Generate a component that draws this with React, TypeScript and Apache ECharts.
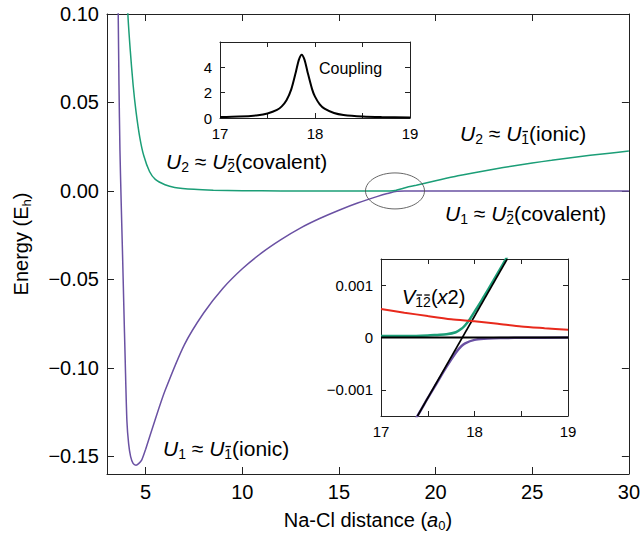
import React, { useEffect, useRef } from 'react';
import * as echarts from 'echarts';

const FONT = '"Liberation Sans", Arial, Helvetica, sans-serif';
const GREEN = '#1b9e77';
const PURPLE = '#6a51a3';
const RED = '#e8291c';
const INK = '#000';
const FRAME = '#222';

// ---- Main panel: adiabatic curves (Na-Cl distance in a0, energy in Eh) ----
const u1X = [3.55, 3.58, 3.62, 3.67, 3.73, 3.80, 3.87, 3.94, 4.03, 4.12, 4.22, 4.35, 4.5, 4.65, 4.8, 5.0, 5.47, 6, 7, 8, 9, 10, 11, 12, 13, 14, 15, 16, 17, 17.5, 18, 18.5, 19, 20, 25, 30];
const u1Y = [0.12, 0.10, 0.06, 0.023, -0.005, -0.034, -0.065, -0.095, -0.13, -0.143, -0.150, -0.154, -0.155, -0.154, -0.152, -0.146, -0.13, -0.113, -0.087, -0.069, -0.055, -0.044, -0.035, -0.0275, -0.021, -0.0156, -0.0109, -0.0067, -0.0031, -0.0015, -0.0002, -0.00005, 0, 0, 0, 0];

const u2X = [4.04, 4.08, 4.2, 4.35, 4.5, 4.7, 4.9, 5.2, 5.5, 6.0, 6.5, 7.5, 8.5, 10, 12, 15, 17, 17.5, 17.8, 17.9, 18, 18.3, 18.6, 19, 20, 21, 22, 23, 24, 25, 26, 27, 28, 29, 30];
const u2Y = [0.12, 0.10, 0.08, 0.06, 0.045, 0.03, 0.02, 0.011, 0.0065, 0.0035, 0.002, 0.0009, 0.0004, 0.0001, 0, 0, 0, 0, 0.0001, 0.0002, 0.0005, 0.0014, 0.0023, 0.0032, 0.0058, 0.0082, 0.0103, 0.0123, 0.0141, 0.0158, 0.0173, 0.0188, 0.0201, 0.0213, 0.0225];

const mainXTicks = [5, 10, 15, 20, 25, 30];
const mainYTicks = [-0.15, -0.1, -0.05, 0, 0.05, 0.1];
const crossing = [17.9, 0];

// ---- Inset 1: coupling ----
const couplingX = [17, 17.2, 17.4, 17.5, 17.6, 17.65, 17.7, 17.75, 17.8, 17.83, 17.86, 17.89, 17.92, 17.97, 18.0, 18.05, 18.1, 18.2, 18.3, 18.5, 18.7, 19];
const couplingY = [0.07, 0.11, 0.22, 0.36, 0.64, 0.92, 1.40, 2.26, 3.68, 4.59, 5.0, 4.59, 3.68, 2.26, 1.69, 1.08, 0.74, 0.40, 0.245, 0.12, 0.07, 0.04];
const in1XTicks = [17, 17.5, 18, 18.5, 19];
const in1XLabels = [17, 18, 19];
const in1YTicks = [0, 2, 4];

// ---- Inset 2: diabatic vs adiabatic near crossing ----
const upperX = [17, 17.3, 17.5, 17.6, 17.7, 17.8, 17.86, 17.9, 17.95, 18.0, 18.05, 18.1, 18.2, 18.3, 18.4];
const upperY = [0.00003, 0.00003, 0.00004, 0.00005, 0.00006, 0.0001, 0.000165, 0.000235, 0.00035, 0.00049, 0.00063, 0.00078, 0.00108, 0.00139, 0.0017];
const lowerX = [17.3, 17.4, 17.5, 17.6, 17.7, 17.8, 17.86, 17.9, 18.0, 18.1, 18.2, 18.35, 18.5, 19];
const lowerY = [-0.00176, -0.00147, -0.00116, -0.00086, -0.00056, -0.00029, -0.000165, -0.00011, -0.000046, -0.000024, -0.000015, -0.000008, -0.000005, 0];
const covX = [17, 19];
const covY = [0, 0];
const ionX = [17.39, 18.35];
const ionY = [-0.0015, 0.0015];
const v12X = [17, 17.25, 17.5, 17.75, 18, 18.25, 18.5, 18.75, 19];
const v12Y = [0.000545, 0.000475, 0.00041, 0.00035, 0.00031, 0.000262, 0.00021, 0.000177, 0.000146];
const in2YTicks = [-0.001, 0, 0.001];

const zip = (xs: number[], ys: number[]) => xs.map((x, i) => [x, ys[i]]);

const minus = (s: string, v: number) => (v < -1e-12 ? '\u2212' + s : s);

function xAx(grid: number, pos: 'top' | 'bottom', min: number, max: number, ticks: number[], labels: number[] | null, tickLen: number, fs: number, extra: any = {}) {
  return {
    type: 'value', gridIndex: grid, position: pos, min, max,
    axisLine: { show: true, onZero: false, lineStyle: { color: FRAME, width: 1 } },
    axisTick: { show: true, inside: true, length: tickLen, customValues: ticks, lineStyle: { color: FRAME, width: 1 } },
    axisLabel: labels
      ? { show: true, customValues: labels, fontSize: fs, color: INK, fontFamily: FONT, margin: 8 }
      : { show: false },
    splitLine: { show: false },
    ...extra,
  };
}

function yAx(grid: number, pos: 'left' | 'right', min: number, max: number, ticks: number[], labels: number[] | null, tickLen: number, fs: number, fmt: any, extra: any = {}) {
  return {
    type: 'value', gridIndex: grid, position: pos, min, max,
    axisLine: { show: true, onZero: false, lineStyle: { color: FRAME, width: 1 } },
    axisTick: { show: true, inside: true, length: tickLen, customValues: ticks, lineStyle: { color: FRAME, width: 1 } },
    axisLabel: labels
      ? { show: true, customValues: labels, fontSize: fs, color: INK, fontFamily: FONT, margin: 8, formatter: fmt }
      : { show: false },
    splitLine: { show: false },
    ...extra,
  };
}

const nameRich = {
  n: { fontSize: 20, fontFamily: FONT, color: INK, lineHeight: 24 },
  i: { fontSize: 20, fontFamily: FONT, color: INK, fontStyle: 'italic', lineHeight: 24 },
  s: { fontSize: 13, fontFamily: FONT, color: INK, lineHeight: 13, verticalAlign: 'bottom' },
};

function richFor(fs: number, sfs: number) {
  return {
    n: { fontSize: fs, fontFamily: FONT, fill: INK, lineHeight: fs + 4 },
    i: { fontSize: fs, fontFamily: FONT, fill: INK, fontStyle: 'italic', lineHeight: fs + 4 },
    s: { fontSize: sfs, fontFamily: FONT, fill: INK, lineHeight: sfs, verticalAlign: 'bottom' },
  };
}

let measureCtx: CanvasRenderingContext2D | null = null;
function tw(text: string, size: number, italic = false) {
  if (!measureCtx) measureCtx = document.createElement('canvas').getContext('2d');
  measureCtx!.font = `${italic ? 'italic ' : ''}${size}px ${FONT}`;
  return measureCtx!.measureText(text).width;
}

type Tok = { t: string; k: 'n' | 'i' | 's'; bar?: boolean };

function label(toks: Tok[], x: number, y: number, fs = 21, sfs = 14): any[] {
  const text = toks.map((k) => `{${k.k}|${k.t}}`).join('');
  const out: any[] = [{
    type: 'text', z: 100,
    style: {
      text, x, y, rich: richFor(fs, sfs),
      fontSize: fs, fontFamily: FONT, fill: INK,
      verticalAlign: 'middle', align: 'left',
    },
  }];
  const barY = y + (fs + 4) / 2 - sfs / 2 + 0.35 * sfs - 0.72 * sfs - 1.8;
  let cx = x;
  toks.forEach((k) => {
    const size = k.k === 's' ? sfs : fs;
    if (k.bar) {
      // one bar per character of the subscript
      let bx = cx;
      for (const ch of k.t) {
        const w = tw(ch, size);
        out.push({
          type: 'line', z: 100,
          shape: { x1: bx + w * 0.15, y1: barY, x2: bx + w * 0.85, y2: barY },
          style: { stroke: INK, lineWidth: 1.3 },
        });
        bx += w;
      }
    }
    cx += tw(k.t, size, k.k === 'i');
  });
  return out;
}

export default function App() {
  const ref = useRef<HTMLDivElement>(null);
  useEffect(() => {
    const chart = echarts.init(ref.current!, null, { renderer: 'svg' });
    const line = (data: number[][], xi: number, color: string, width: number, z = 2) => ({
      type: 'line', data, xAxisIndex: xi, yAxisIndex: xi, showSymbol: false, symbol: 'none',
      smooth: 0.25, clip: true, z,
      lineStyle: { color, width }, silent: true,
    });
    const mainFmt = (v: number) => minus(Math.abs(v).toFixed(2), v);
    const in1Fmt = (v: number) => String(Math.round(v));
    const in2Fmt = (v: number) => (Math.abs(v) < 1e-12 ? '0' : minus(Math.abs(v).toFixed(3), v));
    const option: any = {
      animation: false,
      backgroundColor: '#fff',
      textStyle: { fontFamily: FONT },
      grid: [
        { left: 107, top: 14, width: 525, height: 460, show: false },
        { left: 220, top: 42, width: 190, height: 76, show: false },
        { left: 381, top: 259, width: 187, height: 157, show: false },
      ],
      xAxis: [
        xAx(0, 'bottom', 3, 30, mainXTicks, mainXTicks, 7, 20, {
          name: '{n|Na-Cl distance (}{i|a}{s|0}{n|)}', nameLocation: 'middle', nameGap: 34,
          nameTextStyle: { rich: nameRich },
        }),
        xAx(0, 'top', 3, 30, mainXTicks, null, 7, 20),
        xAx(1, 'bottom', 17, 19, in1XTicks, in1XLabels, 5, 15),
        xAx(1, 'top', 17, 19, in1XTicks, null, 5, 15),
        xAx(2, 'bottom', 17, 19, in1XTicks, in1XLabels, 5, 15),
        xAx(2, 'top', 17, 19, in1XTicks, null, 5, 15),
      ],
      yAxis: [
        yAx(0, 'left', -0.16, 0.1, mainYTicks, mainYTicks, 7, 20, mainFmt, {
          name: '{n|Energy (E}{s|h}{n|)}', nameLocation: 'middle', nameGap: 74,
          nameTextStyle: { rich: nameRich },
        }),
        yAx(0, 'right', -0.16, 0.1, mainYTicks, null, 7, 20, mainFmt),
        yAx(1, 'left', 0, 6, in1YTicks, in1YTicks, 5, 15, in1Fmt),
        yAx(1, 'right', 0, 6, in1YTicks, null, 5, 15, in1Fmt),
        yAx(2, 'left', -0.0015, 0.0015, in2YTicks, in2YTicks, 5, 15, in2Fmt),
        yAx(2, 'right', -0.0015, 0.0015, in2YTicks, null, 5, 15, in2Fmt),
      ],
      series: [
        line(zip(u1X, u1Y), 0, PURPLE, 1.5),
        line(zip(u2X, u2Y), 0, GREEN, 1.5),
        line(zip(couplingX, couplingY), 2, INK, 2, 10),
        line(zip(upperX, upperY), 4, GREEN, 2.5, 10),
        line(zip(lowerX, lowerY), 4, PURPLE, 2.5, 10),
        line(zip(covX, covY), 4, INK, 2, 11),
        line(zip(ionX, ionY), 4, INK, 1.6, 11),
        line(zip(v12X, v12Y), 4, RED, 2, 12),
      ],
    };
    chart.setOption(option);
    const c = chart.convertToPixel({ xAxisIndex: 0, yAxisIndex: 0 }, crossing) as number[];
    const U = (n: string, m: string, rest: string): Tok[] => [
      { t: 'U', k: 'i' }, { t: n, k: 's' }, { t: ' \u2248 ', k: 'n' },
      { t: 'U', k: 'i' }, { t: m, k: 's', bar: true }, { t: rest, k: 'n' },
    ];
    chart.setOption({
      graphic: [
        { type: 'ellipse', z: 50, shape: { cx: c[0], cy: c[1], rx: 29.5, ry: 18 }, style: { fill: 'none', stroke: '#555', lineWidth: 0.9 } },
        ...label(U('2', '2', '(covalent)'), 166, 161),
        ...label(U('2', '1', '(ionic)'), 460, 133),
        ...label(U('1', '2', '(covalent)'), 445, 213),
        ...label(U('1', '1', '(ionic)'), 163, 448),
        ...label([{ t: 'Coupling', k: 'n' }], 319, 68, 16, 11),
        ...label([{ t: 'V', k: 'i' }, { t: '12', k: 's', bar: true }, { t: '(', k: 'n' }, { t: 'x', k: 'i' }, { t: '2)', k: 'n' }], 402, 297, 20, 14),
      ],
    });
    return () => chart.dispose();
  }, []);
  return <div ref={ref} style={{ position: 'fixed', left: 0, top: 0, width: 643, height: 537 }} />;
}
